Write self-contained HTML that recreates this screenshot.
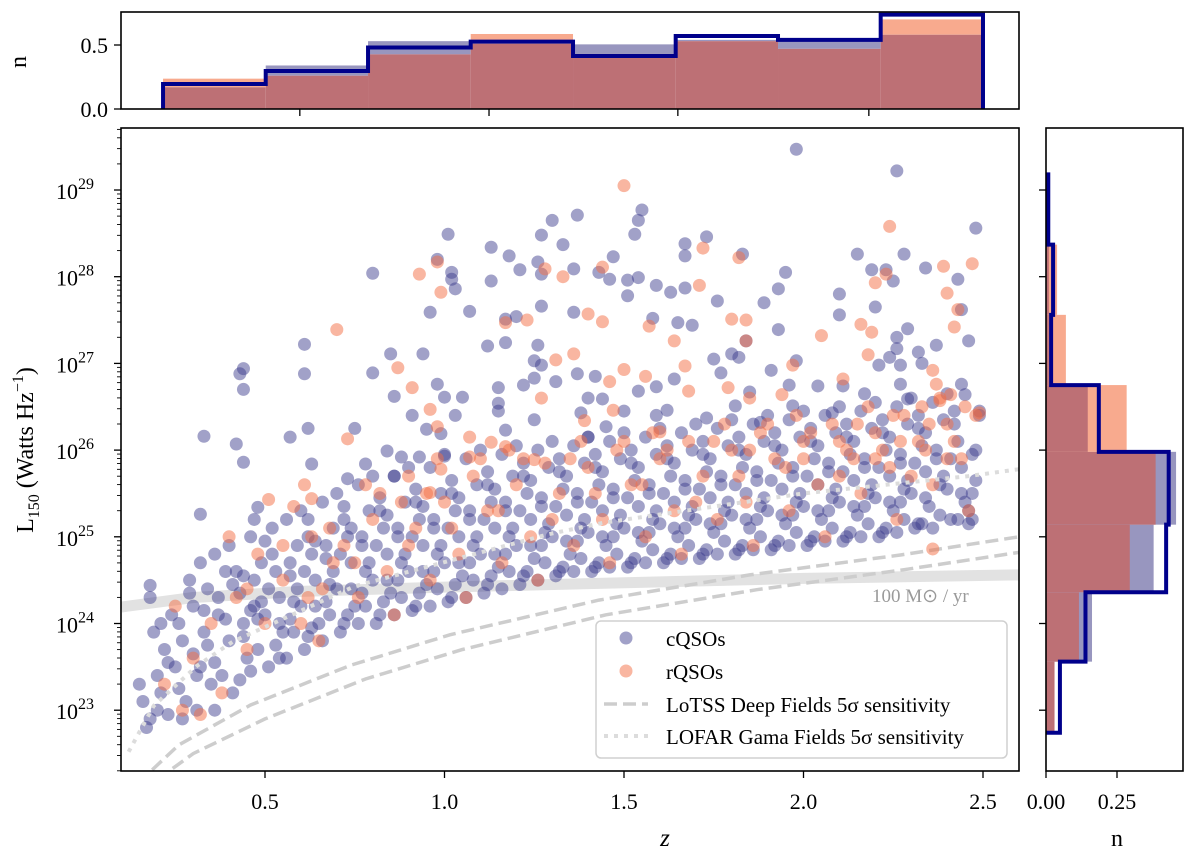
<!DOCTYPE html>
<html><head><meta charset="utf-8"><style>
body{margin:0;background:#fff}
svg{display:block;font-family:"Liberation Serif",serif}
</style></head><body>
<svg id="chart" width="1200" height="852" viewBox="0 0 1200 852" xmlns="http://www.w3.org/2000/svg">
<defs>
<clipPath id="mainClip"><rect x="121" y="128" width="898" height="643"/></clipPath>
</defs>
<g id="topHist"></g>
<g id="rightHist"></g>
<g id="mainPanel"></g>
</svg>
<script>
// ---------- data ----------
const zBinEdges=[0.216,0.502,0.787,1.073,1.358,1.644,1.929,2.215,2.5];
const topCQSO=[0.17,0.34,0.53,0.51,0.505,0.54,0.53,0.58];
const topRQSO=[0.237,0.26,0.427,0.586,0.43,0.53,0.47,0.70];
const topOutline=[0.195,0.297,0.48,0.526,0.414,0.57,0.54,0.737];
const topTickZ=[0.597,1.124,1.650,2.182];
const topYTicks=[0.0,0.5];
const lBinEdges=[22.74,23.56,24.36,25.14,25.98,26.75,27.56,28.37,29.18];
const rightCQSO=[0.03,0.162,0.379,0.458,0.147,0.01,0.01,0.005];
const rightRQSO=[0.03,0.116,0.295,0.386,0.284,0.07,0.039,0.005];
const rightOutline=[0.049,0.139,0.423,0.432,0.186,0.018,0.025,0.008];
const rightXTicks=[0.00,0.25];
const xTicks=[0.5,1.0,1.5,2.0,2.5];
const yTicks=[23,24,25,26,27,28,29];
const cqso=[
[1.01,28.49],[1.30,28.65],[1.13,28.34],[1.27,28.48],[1.33,28.37],[1.18,28.24],[1.21,28.08],[1.26,28.17],[1.27,28.03],[1.13,27.95],[1.02,28.05],[1.02,27.97],[1.03,27.86],[0.80,28.04],[0.98,28.2],[0.96,27.59],[1.07,27.6],[1.27,27.66],[1.2,27.54],[1.17,27.51],[1.12,27.2],[1.17,27.24],[1.26,27.21],[0.61,27.22],[0.61,26.88],[0.44,26.94],[0.43,26.88],[0.44,26.7],[0.85,27.11],[0.94,27.11],[0.8,26.89],[1.25,27.03],[1.27,26.98],[1.25,26.83],[1.31,26.79],[1.15,26.72],[1.22,26.75],[0.86,26.62],[0.98,26.76],[1.0,26.61],[1.05,26.61],[0.91,26.4],[1.03,26.4],[1.15,26.54],[1.15,26.45],[1.25,26.35],[0.33,26.16],[0.42,26.07],[0.44,25.86],[0.57,26.15],[0.62,26.25],[0.75,26.25],[0.95,26.24],[0.99,26.19],[1.17,26.23],[0.84,25.99],[0.93,25.92],[1.0,25.93],[0.88,25.92],[0.78,25.84],[0.63,25.84],[0.73,25.67],[0.86,25.7],[0.32,25.26],[0.48,25.34],[0.47,25.2],[0.18,24.44],
[1.98,29.47],[2.26,29.22],[2.48,28.56],[1.37,28.71],[1.55,28.77],[1.54,28.65],[1.53,28.49],[1.73,28.46],[1.67,28.38],[1.67,28.24],[1.83,28.26],[1.47,28.23],[1.36,28.09],[1.43,28.05],[1.46,27.97],[1.51,27.96],[1.54,27.99],[1.51,27.78],[1.59,27.9],[1.63,27.82],[1.67,27.87],[1.76,27.72],[1.89,27.7],[1.93,27.86],[1.95,28.05],[2.15,28.26],[2.28,28.26],[2.34,28.1],[2.19,28.08],[2.23,28.08],[2.25,27.95],[2.43,27.97],[2.1,27.8],[2.1,27.56],[2.2,27.65],[2.44,27.62],[1.36,27.59],[1.58,27.52],[1.65,27.47],[1.69,27.44],[1.93,27.39],[1.84,27.26],[1.8,27.11],[1.82,27.07],[1.75,27.05],[1.77,26.89],[1.91,26.92],[1.98,27.03],[2.29,27.4],[2.26,27.3],[2.26,27.17],[2.37,27.21],[2.46,27.26],[2.32,27.13],[2.33,27.0],[2.21,26.98],[2.24,27.07],[2.27,26.98],[1.37,26.88],[1.42,26.85],[1.64,26.82],[1.59,26.73],[1.54,26.68],[1.4,26.6],[1.44,26.59],[1.5,26.45],[1.62,26.46],[1.81,26.51],[1.85,26.67],[1.96,26.75],[2.04,26.74],[2.11,26.74],[2.17,26.65],[2.27,26.76],[2.29,26.59],[2.44,26.76],[2.45,26.64],[1.73,26.37],[1.88,26.32],[1.97,26.51],[2.08,26.43],[1.38,26.43],[1.45,26.27],[1.59,26.4],[1.4,26.15],
[0.16,23.1],[0.18,22.9],[0.2,23.4],[0.22,23.7],[0.17,22.8],[0.24,24.1],[0.21,23.2],[0.19,23.9],[0.25,23.5],[0.23,22.95],[0.15,23.3],
[0.27,23.8],[0.3,24.2],[0.32,23.5],[0.28,23.1],[0.34,24.4],[0.26,24.0],[0.31,23.0],[0.33,23.9],[0.29,24.5],[0.35,23.3],[0.3,23.65],[0.27,22.9],[0.33,24.15],
[0.37,24.3],[0.4,23.8],[0.42,24.6],[0.38,23.4],[0.44,24.0],[0.36,24.8],[0.41,23.2],[0.43,24.35],[0.39,24.05],[0.45,23.6],[0.4,24.9],[0.36,23.55],[0.44,24.55],
[0.47,24.5],[0.5,24.1],[0.52,24.8],[0.48,23.7],[0.54,24.3],[0.46,25.0],[0.51,23.5],[0.53,24.6],[0.49,24.25],[0.55,23.9],[0.5,24.95],[0.46,24.15],[0.54,23.6],
[0.57,24.7],[0.6,24.2],[0.62,25.0],[0.58,23.9],[0.64,24.5],[0.56,25.2],[0.61,23.7],[0.63,24.8],[0.59,24.4],[0.65,24.0],[0.6,25.3],[0.57,24.05],[0.64,24.95],[0.62,23.85],
[0.67,24.9],[0.7,24.4],[0.72,25.2],[0.68,24.1],[0.74,24.7],[0.66,25.4],[0.71,23.9],[0.73,25.0],[0.69,24.6],[0.75,24.2],[0.7,25.5],[0.67,24.25],[0.74,25.1],[0.72,24.0],
[0.77,25.0],[0.8,24.5],[0.82,25.3],[0.78,24.2],[0.84,24.8],[0.76,25.6],[0.81,24.0],[0.83,25.1],[0.79,24.7],[0.85,24.35],[0.8,25.7],[0.77,24.35],[0.84,25.25],[0.82,24.1],
[0.87,25.1],[0.9,24.6],[0.92,25.4],[0.88,24.3],[0.94,24.9],[0.86,25.7],[0.91,24.15],[0.93,25.2],[0.89,24.8],[0.95,24.45],[0.9,25.8],[0.87,24.5],[0.94,25.35],[0.92,24.2],
[0.97,25.2],[1.0,24.7],[1.02,25.5],[0.98,24.4],[1.04,25.0],[0.96,25.8],[1.01,24.25],[1.03,25.3],[0.99,24.9],[1.05,24.55],[1.0,25.95],[0.97,24.6],[1.04,25.45],[1.02,24.3],
[1.07,25.3],[1.1,24.8],[1.12,25.6],[1.08,24.5],[1.14,25.1],[1.06,25.9],[1.11,24.35],[1.13,25.4],[1.09,25.0],[1.15,24.65],[1.1,26.0],[1.07,24.7],[1.14,25.55],[1.12,24.45],
[1.17,25.4],[1.2,24.9],[1.22,25.7],[1.18,24.6],[1.24,25.2],[1.16,25.95],[1.21,24.45],[1.23,25.5],[1.19,25.1],[1.25,24.75],[1.2,26.05],[1.17,24.8],[1.24,25.65],[1.22,24.55],
[1.27,25.45],[1.3,25.0],[1.32,25.75],[1.28,24.7],[1.34,25.25],[1.26,26.0],[1.31,24.55],[1.33,25.55],[1.29,25.15],[1.35,24.8],[1.3,26.1],[1.27,24.9],[1.34,25.7],[1.32,24.6],
[1.37,25.5],[1.4,25.05],[1.42,25.8],[1.38,24.75],[1.44,25.3],[1.36,26.05],[1.41,24.6],[1.43,25.6],[1.39,25.2],[1.45,24.9],[1.4,26.15],[1.37,24.95],[1.44,25.75],[1.42,24.65],
[1.47,25.55],[1.5,25.1],[1.52,25.85],[1.48,24.8],[1.54,25.35],[1.46,26.1],[1.51,24.65],[1.53,25.65],[1.49,25.25],[1.55,24.95],[1.5,26.2],[1.47,25.0],[1.54,25.8],[1.52,24.7],
[1.57,25.6],[1.6,25.15],[1.62,25.9],[1.58,24.85],[1.64,25.4],[1.56,26.15],[1.61,24.7],[1.63,25.7],[1.59,25.3],[1.65,25.0],[1.6,26.25],[1.57,25.05],[1.64,25.85],[1.62,24.75],
[1.67,25.65],[1.7,25.2],[1.72,25.95],[1.68,24.9],[1.74,25.45],[1.66,26.2],[1.71,24.75],[1.73,25.75],[1.69,25.35],[1.75,25.05],[1.7,26.3],[1.67,25.1],[1.74,25.9],[1.72,24.8],
[1.77,25.7],[1.8,25.25],[1.82,26.0],[1.78,24.95],[1.84,25.5],[1.76,26.25],[1.81,24.8],[1.83,25.8],[1.79,25.4],[1.85,25.1],[1.8,26.35],[1.77,25.15],[1.84,25.95],[1.82,24.85],
[1.87,25.75],[1.9,25.3],[1.92,26.05],[1.88,25.0],[1.94,25.55],[1.86,26.3],[1.91,24.85],[1.93,25.85],[1.89,25.45],[1.95,25.15],[1.9,26.4],[1.87,25.2],[1.94,26.0],[1.92,24.9],
[1.97,25.8],[2.0,25.35],[2.02,26.1],[1.98,25.05],[2.04,25.6],[1.96,26.35],[2.01,24.9],[2.03,25.9],[1.99,25.5],[2.05,25.2],[2.0,26.45],[1.97,25.25],[2.04,26.05],[2.02,24.95],
[2.07,25.85],[2.1,25.4],[2.12,26.15],[2.08,25.1],[2.14,25.65],[2.06,26.4],[2.11,24.95],[2.13,25.95],[2.09,25.55],[2.15,25.25],[2.1,26.5],[2.07,25.3],[2.14,26.1],[2.12,25.0],
[2.17,25.9],[2.2,25.45],[2.22,26.2],[2.18,25.15],[2.24,25.7],[2.16,26.45],[2.21,25.0],[2.23,26.0],[2.19,25.6],[2.25,25.3],[2.2,26.55],[2.17,25.35],[2.24,26.15],[2.22,25.05],
[2.27,25.95],[2.3,25.5],[2.32,26.25],[2.28,25.2],[2.34,25.75],[2.26,26.5],[2.31,25.1],[2.33,26.05],[2.29,25.65],[2.35,25.35],[2.3,26.6],[2.27,25.4],[2.34,26.2],[2.32,25.15],
[2.37,26.0],[2.4,25.55],[2.42,26.3],[2.38,25.25],[2.44,25.8],[2.36,26.55],[2.41,25.2],[2.43,26.1],[2.39,25.7],[2.45,25.4],[2.4,26.65],[2.47,25.5],[2.48,26.0],[2.46,25.3],[2.49,26.45],[2.47,25.2],
[0.2,23.0],[0.23,23.55],[0.18,24.3],[0.26,23.25],[0.21,24.0],
[0.31,23.4],[0.34,23.75],[0.37,24.1],[0.29,24.35],[0.36,23.0],[0.39,24.6],[0.32,24.7],
[0.41,24.45],[0.44,23.85],[0.47,24.2],[0.43,23.35],[0.49,24.7],[0.46,23.45],[0.48,24.05],
[0.51,24.4],[0.54,24.0],[0.57,24.55],[0.53,23.75],[0.59,24.9],[0.56,23.6],[0.58,24.25],[0.52,25.1],
[0.61,24.6],[0.64,24.2],[0.67,24.75],[0.63,23.95],[0.69,25.1],[0.66,23.8],[0.68,24.45],[0.62,25.2],
[0.71,24.8],[0.74,24.4],[0.77,24.9],[0.73,24.1],[0.79,25.3],[0.76,24.0],[0.78,24.6],[0.72,25.35],
[0.81,24.9],[0.84,24.5],[0.87,25.0],[0.83,24.25],[0.89,25.4],[0.86,24.1],[0.88,24.7],[0.82,25.45],
[0.91,25.0],[0.94,24.6],[0.97,25.1],[0.93,24.35],[0.99,25.5],[0.96,24.2],[0.98,24.8],[0.92,25.55],
[1.01,25.1],[1.04,24.7],[1.07,25.2],[1.03,24.45],[1.09,25.6],[1.06,24.3],[1.08,24.9],[1.02,25.65],
[1.11,25.2],[1.14,24.8],[1.17,25.3],[1.13,24.55],[1.19,25.7],[1.16,24.4],[1.18,25.0],[1.12,25.75],
[1.21,25.3],[1.24,24.9],[1.27,25.35],[1.23,24.6],[1.29,25.8],[1.26,24.5],[1.28,25.05],[1.22,25.85],
[1.31,25.35],[1.34,24.95],[1.37,25.4],[1.33,24.65],[1.39,25.85],[1.36,24.6],[1.38,25.1],[1.32,25.9],
[1.41,25.4],[1.44,25.0],[1.47,25.45],[1.43,24.7],[1.49,25.9],[1.46,24.65],[1.48,25.15],[1.42,25.95],
[1.51,25.45],[1.54,25.05],[1.57,25.5],[1.53,24.75],[1.59,25.95],[1.56,24.7],[1.58,25.2],[1.52,26.0],
[1.61,25.5],[1.64,25.1],[1.67,25.55],[1.63,24.8],[1.69,26.0],[1.66,24.75],[1.68,25.25],[1.62,26.05],
[1.71,25.55],[1.74,25.15],[1.77,25.6],[1.73,24.85],[1.79,26.05],[1.76,24.8],[1.78,25.3],[1.72,26.1],
[1.81,25.6],[1.84,25.2],[1.87,25.65],[1.83,24.9],[1.89,26.1],[1.86,24.85],[1.88,25.35],[1.82,26.15],
[1.91,25.65],[1.94,25.25],[1.97,25.7],[1.93,24.95],[1.99,26.15],[1.96,24.9],[1.98,25.4],[1.92,26.2],
[2.01,25.7],[2.04,25.3],[2.07,25.75],[2.03,25.0],[2.09,26.2],[2.06,24.95],[2.08,25.45],[2.02,26.25],
[2.11,25.75],[2.14,25.35],[2.17,25.8],[2.13,25.05],[2.19,26.25],[2.16,25.0],[2.18,25.5],[2.12,26.3],
[2.21,25.8],[2.24,25.4],[2.27,25.85],[2.23,25.1],[2.29,26.3],[2.26,25.05],[2.28,25.55],[2.22,26.35],
[2.31,25.85],[2.34,25.45],[2.37,25.9],[2.33,25.15],[2.39,26.35],[2.36,25.1],[2.38,25.6],[2.32,26.4],
[2.41,25.9],[2.44,25.5],[2.47,25.95],[2.43,25.2],[2.49,26.4],[2.46,25.15],[2.48,25.65],[2.42,26.45]
];
const rqso=[
[0.93,28.03],[0.98,28.17],[0.99,27.82],[1.17,27.47],[1.23,27.5],[0.7,27.39],[0.87,26.95],[0.91,26.72],[0.96,26.47],[0.98,26.27],[1.07,26.15],[1.13,26.09],[1.28,28.09],[1.33,28.0],[1.31,27.04],[1.27,26.6],[0.73,26.13],[0.61,25.6],[0.63,25.44],[0.51,25.43],[0.9,25.7],[0.96,25.51],[0.99,25.78],[1.17,26.04],[1.25,25.89],[1.07,25.92],
[1.5,29.05],[2.24,28.58],[2.47,28.15],[1.72,28.33],[1.82,28.22],[1.44,28.11],[1.71,27.9],[2.39,28.12],[2.4,27.81],[2.2,27.93],[2.23,28.03],[2.43,27.62],[2.42,27.42],[2.16,27.45],[2.19,27.36],[2.05,27.32],[1.8,27.51],[1.84,27.5],[1.4,27.57],[1.44,27.48],[1.57,27.43],[1.64,27.26],[1.84,27.26],[2.18,27.1],[2.36,26.92],[2.37,26.76],[1.97,26.98],[1.56,26.85],[1.67,26.97],[1.5,26.93],[1.46,26.79],[1.68,26.68],[1.79,26.72],[1.85,26.6],[1.94,26.64],[2.11,26.82],[2.41,26.64],[2.49,26.43],[2.38,26.57],[1.47,26.46],[1.39,26.34],[1.6,26.21],[2.36,24.86],[1.36,27.11],
[0.22,23.3],[0.27,23.0],[0.3,23.6],[0.25,24.2],[0.32,22.95],
[0.38,23.2],[0.42,24.3],[0.45,23.7],[0.48,24.8],[0.4,25.0],[0.5,24.0],
[0.55,24.5],[0.6,24.0],[0.63,25.0],[0.66,24.4],[0.58,25.35],[0.69,24.7],[0.65,23.8],
[0.72,24.9],[0.76,24.3],[0.8,25.2],[0.84,24.6],[0.88,25.4],[0.78,25.6],[0.86,24.1],
[0.92,25.1],[0.96,24.5],[1.0,25.4],[1.04,24.8],[1.08,25.7],[0.98,25.9],[1.06,24.3],
[1.12,25.3],[1.16,24.7],[1.2,25.6],[1.24,25.0],[1.28,25.85],[1.18,26.0],[1.26,24.5],
[1.32,25.5],[1.36,24.9],[1.4,25.8],[1.44,25.2],[1.48,26.0],[1.38,26.1],[1.46,24.7],
[1.52,25.6],[1.56,25.0],[1.6,25.9],[1.64,25.3],[1.68,26.1],[1.58,26.2],[1.66,24.8],
[1.72,25.7],[1.76,25.2],[1.8,26.0],[1.84,25.4],[1.88,26.2],[1.78,26.3],[1.86,24.9],
[1.92,25.9],[1.96,25.3],[2.0,26.1],[2.04,25.6],[2.08,26.3],[1.98,26.4],[2.06,25.0],
[2.12,26.0],[2.16,25.5],[2.2,26.2],[2.24,25.8],[2.28,26.4],[2.18,26.5],[2.26,25.2],[2.14,25.9],[2.22,26.0],
[2.32,26.1],[2.36,25.6],[2.4,26.3],[2.44,25.9],[2.48,26.4],[2.38,26.6],[2.46,25.3],[2.34,26.0],[2.42,26.1],
[0.35,24.0],[0.45,24.4],[0.55,24.9],[0.62,24.3],[0.68,25.1],[0.75,24.7],[0.82,25.5],[0.9,24.9],[0.95,25.5],[1.02,25.1],[1.1,25.9],[1.15,25.3],[1.22,25.9],[1.3,25.2],[1.35,25.9],[1.42,25.5],[1.5,26.1],[1.55,25.6],[1.62,26.0],[1.7,25.4],[1.75,26.1],[1.82,25.7],[1.9,26.3],[1.95,25.8],[2.02,26.2],[2.1,25.7],[2.15,26.3],[2.2,25.9],[2.25,26.4],[2.3,25.7],[2.35,26.3],[2.4,25.9],[2.45,26.5],[2.27,26.1],[2.33,26.5],[2.1,26.1],[2.0,25.9],[1.85,26.0]
];
const lotssUpper=[[0.15,22.15],[0.18,22.29],[0.26,22.6],[0.46,23.06],[0.74,23.52],[1.015,23.87],[1.43,24.27],[1.85,24.56],[2.27,24.79],[2.6,25.0]];
const lotssLower=[[0.2,22.2],[0.3,22.5],[0.5,22.9],[0.78,23.36],[1.05,23.7],[1.45,24.1],[1.87,24.39],[2.28,24.62],[2.6,24.82]];
const sfrLine=[[0.1,24.19],[0.3,24.3],[0.6,24.37],[1.0,24.42],[1.5,24.47],[2.0,24.52],[2.6,24.56]];
const gamaLine=[[0.12,22.52],[0.19,23.05],[0.31,23.51],[0.41,23.79],[0.75,24.43],[1.29,25.03],[1.44,25.16],[2.0,25.5],[2.46,25.7],[2.6,25.78]];

// ---------- scales ----------
const sx=z=>265+(z-0.5)*359;
const sy=L=>190+(29-L)*86.7;
const tyTop=n=>109-n*128;
const rx=n=>1046+n*284;
const NS='http://www.w3.org/2000/svg';
function mk(tag,attrs,parent){const e=document.createElementNS(NS,tag);for(const k in attrs)e.setAttribute(k,attrs[k]);parent.appendChild(e);return e;}
const PURP='#9896bf',ORNG='#f8aa8e',OVER='#bd7075',NAVY='#00008b';
const FS=22;

// ---------- top histogram ----------
const topG=document.getElementById('topHist');
for(let i=0;i<topCQSO.length;i++){
  const x0=sx(zBinEdges[i]),x1=sx(zBinEdges[i+1]);
  const c=topCQSO[i],r=topRQSO[i],m=Math.min(c,r),M=Math.max(c,r);
  const b=mk('rect',{x:x0,y:tyTop(M),width:x1-x0,height:tyTop(m)-tyTop(M),fill:c>r?PURP:ORNG},topG);
  
  
  const o=mk('rect',{x:x0,y:tyTop(m),width:x1-x0,height:109-tyTop(m),fill:OVER},topG);
  
  
}
{let d=`M${sx(zBinEdges[0])},109`;
for(let i=0;i<topOutline.length;i++){d+=` L${sx(zBinEdges[i])},${tyTop(topOutline[i])} L${sx(zBinEdges[i+1])},${tyTop(topOutline[i])}`;}
d+=` L${sx(zBinEdges[zBinEdges.length-1])},109`;
const s=mk('path',{d:d,fill:'none',stroke:NAVY,'stroke-width':4,'stroke-linejoin':'miter'},topG);

}
mk('rect',{x:121,y:12,width:898,height:97,fill:'none',stroke:'#000','stroke-width':1.6},topG);
topTickZ.forEach(z=>{const t=mk('line',{x1:sx(z),x2:sx(z),y1:109,y2:116,stroke:'#000','stroke-width':1.3},topG);});
topYTicks.forEach(v=>{mk('line',{x1:114,x2:121,y1:tyTop(v),y2:tyTop(v),stroke:'#000','stroke-width':1.3},topG);
 const t=mk('text',{x:108,y:tyTop(v)+8,'text-anchor':'end','font-size':FS},topG);t.textContent=v.toFixed(1);});
{const t=mk('text',{x:0,y:0,'font-size':24,transform:'translate(26,62) rotate(-90)','text-anchor':'middle'},topG);t.textContent='n';}

// ---------- right histogram ----------
const rightG=document.getElementById('rightHist');
for(let i=0;i<rightCQSO.length;i++){
  const y0=sy(lBinEdges[i]),y1=sy(lBinEdges[i+1]);
  const c=rightCQSO[i],r=rightRQSO[i],m=Math.min(c,r),M=Math.max(c,r);
  const b=mk('rect',{x:rx(0),y:y1,width:rx(M)-rx(0),height:y0-y1,fill:c>r?PURP:ORNG},rightG);
  
  
  const o=mk('rect',{x:rx(0),y:y1,width:rx(m)-rx(0),height:y0-y1,fill:OVER},rightG);
  
  
}
{let d=`M${rx(0)},${sy(lBinEdges[0])}`;
for(let i=0;i<rightOutline.length;i++){d+=` L${rx(rightOutline[i])},${sy(lBinEdges[i])} L${rx(rightOutline[i])},${sy(lBinEdges[i+1])}`;}
d+=` L${rx(0)},${sy(lBinEdges[lBinEdges.length-1])}`;
const s=mk('path',{d:d,fill:'none',stroke:NAVY,'stroke-width':4},rightG);

}
mk('rect',{x:1046,y:128,width:137,height:643,fill:'none',stroke:'#000','stroke-width':1.6},rightG);
yTicks.forEach(L=>mk('line',{x1:1039,x2:1046,y1:sy(L),y2:sy(L),stroke:'#000','stroke-width':1.3},rightG));
rightXTicks.forEach(v=>{mk('line',{x1:rx(v),x2:rx(v),y1:771,y2:778,stroke:'#000','stroke-width':1.3},rightG);
 const t=mk('text',{x:rx(v),y:809,'text-anchor':'middle','font-size':FS},rightG);t.textContent=v.toFixed(2);});
{const t=mk('text',{x:1117,y:846,'text-anchor':'middle','font-size':24},rightG);t.textContent='n';}

// ---------- main panel ----------
const mainG=document.getElementById('mainPanel');
const plotG=mk('g',{'clip-path':'url(#mainClip)'},mainG);
const linePath=pts=>pts.map((p,i)=>(i?'L':'M')+sx(p[0]).toFixed(1)+','+sy(p[1]).toFixed(1)).join(' ');
{const e=mk('path',{d:linePath(sfrLine),fill:'none',stroke:'#e2e2e2','stroke-width':11},plotG);}
{const e=mk('path',{d:linePath(lotssUpper),fill:'none',stroke:'#cdcdcd','stroke-width':3.5,'stroke-dasharray':'13 6'},plotG);}
{const e=mk('path',{d:linePath(lotssLower),fill:'none',stroke:'#cdcdcd','stroke-width':3.5,'stroke-dasharray':'13 6'},plotG);}
cqso.forEach(p=>{const c=mk('circle',{cx:sx(p[0]),cy:sy(p[1]),r:6.5,fill:'#3b3a8c','fill-opacity':0.48},plotG);
 
 });
rqso.forEach(p=>{const c=mk('circle',{cx:sx(p[0]),cy:sy(p[1]),r:6.5,fill:'#f46d43','fill-opacity':0.5},plotG);
 
 });
{const e=mk('path',{d:linePath(gamaLine),fill:'none',stroke:'#dcdcdc','stroke-width':4,'stroke-dasharray':'4 6'},plotG);}
{const t=mk('text',{x:872,y:602,'font-size':19,fill:'#9a9a9a'},mainG);t.textContent='100 M\u2299 / yr';}
mk('rect',{x:121,y:128,width:898,height:643,fill:'none',stroke:'#000','stroke-width':1.6},mainG);
xTicks.forEach(z=>{mk('line',{x1:sx(z),x2:sx(z),y1:771,y2:778,stroke:'#000','stroke-width':1.3},mainG);
 const t=mk('text',{x:sx(z),y:809,'text-anchor':'middle','font-size':FS},mainG);t.textContent=z.toFixed(1);});
{const t=mk('text',{x:665,y:846,'text-anchor':'middle','font-size':25,'font-style':'italic'},mainG);t.textContent='z';}
yTicks.forEach(L=>{mk('line',{x1:114,x2:121,y1:sy(L),y2:sy(L),stroke:'#000','stroke-width':1.3},mainG);
 const t=mk('text',{x:56,y:sy(L)+9,'font-size':FS},mainG);
 t.appendChild(document.createTextNode('10'));
 const sup=mk('tspan',{dy:-10,'font-size':16},t);sup.textContent=String(L);
 });
for(let d=22;d<=29;d++){for(let k=2;k<=9;k++){const L=d+Math.log10(k);const y=sy(L);if(y>128&&y<771)mk('line',{x1:117,x2:121,y1:y,y2:y,stroke:'#000','stroke-width':0.9},mainG);}}
{const t=mk('text',{x:0,y:0,'font-size':24,transform:'translate(33,450) rotate(-90)','text-anchor':'middle'},mainG);
 t.appendChild(document.createTextNode('L'));
 const a=mk('tspan',{dy:6,'font-size':16},t);a.textContent='150';
 const b=mk('tspan',{dy:-6},t);b.textContent=' (Watts Hz';
 const c=mk('tspan',{dy:-10,'font-size':16},t);c.textContent='\u22121';
 const e=mk('tspan',{dy:10},t);e.textContent=')';
 }
const lg=mk('g',{},mainG);


mk('rect',{x:596,y:621,width:411,height:137,rx:5,fill:'#fff','fill-opacity':0.85,stroke:'#d0d0d0','stroke-width':1.5},lg);
mk('circle',{cx:626,cy:638,r:6.5,fill:'#3b3a8c','fill-opacity':0.48},lg);
mk('circle',{cx:626,cy:671,r:6.5,fill:'#f46d43','fill-opacity':0.5},lg);
mk('line',{x1:604,x2:648,y1:704,y2:704,stroke:'#cdcdcd','stroke-width':3.5,'stroke-dasharray':'13 6'},lg);
mk('line',{x1:604,x2:648,y1:736,y2:736,stroke:'#dcdcdc','stroke-width':4,'stroke-dasharray':'4 6'},lg);
[['cQSOs',645],['rQSOs',678],['LoTSS Deep Fields 5\u03c3 sensitivity',711],['LOFAR Gama Fields 5\u03c3 sensitivity',743]].forEach(([s,y])=>{
 const t=mk('text',{x:666,y:y+1,'font-size':21},lg);t.textContent=s;});
</script>
</body></html>
